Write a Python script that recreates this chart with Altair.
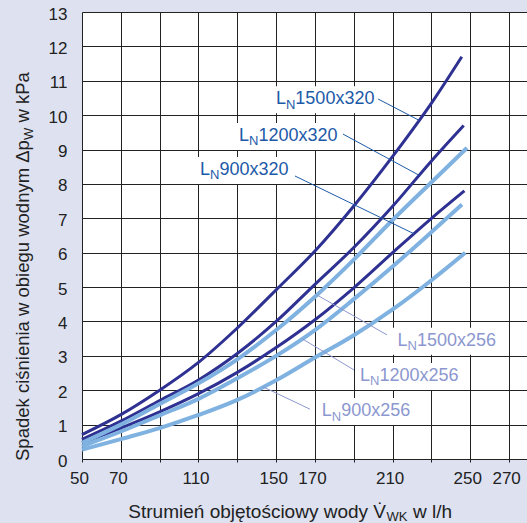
import altair as alt
import pandas as pd

# ---------------- data ----------------
X_STEPS = [50, 70, 90, 110, 130, 150, 170, 190, 210, 230]

SERIES = ["1500x320", "1200x320", "1500x256", "900x320", "1200x256", "900x256"]
KINDS = ["320", "320", "256", "320", "256", "256"]
END_X = [245.6, 246.6, 248.3, 247.0, 245.7, 247.4]

Y_1500_320 = [0.71, 1.29, 2.0, 2.81, 3.81, 4.92, 6.05, 7.36, 8.8, 10.35, 11.7]
Y_1200_320 = [0.57, 1.1, 1.7, 2.3, 3.07, 4.0, 5.08, 6.15, 7.35, 8.67, 9.7]
Y_1500_256 = [0.47, 1.0, 1.6, 2.2, 2.9, 3.75, 4.72, 5.8, 6.95, 8.05, 9.05]
Y_900_320 = [0.47, 0.9, 1.37, 1.9, 2.52, 3.24, 4.05, 4.98, 6.0, 7.0, 7.8]
Y_1200_256 = [0.37, 0.8, 1.27, 1.75, 2.35, 3.0, 3.75, 4.65, 5.6, 6.6, 7.4]
Y_900_256 = [0.27, 0.58, 0.9, 1.28, 1.72, 2.29, 2.95, 3.6, 4.35, 5.2, 6.0]
Y_VALUES = [Y_1500_320, Y_1200_320, Y_1500_256, Y_900_320, Y_1200_256, Y_900_256]

# annotation labels (L_N + name) and leader lines
LABEL_NAMES = ["1500x320", "1200x320", "900x320", "1500x256", "1200x256", "900x256"]
LABEL_KIND = ["320", "320", "320", "256", "256", "256"]
LABEL_X = [149.9, 130.9, 110.8, 212.5, 193.2, 173.5]
LABEL_Y = [10.32, 9.25, 8.26, 3.29, 2.27, 1.25]
LEADER_X1 = [202.5, 184.4, 159.7, 207.1, 190.1, 167.4]
LEADER_Y1 = [10.47, 9.45, 8.23, 3.61, 2.59, 1.45]
LEADER_X2 = [223.6, 223.7, 221.0, 171.0, 163.3, 143.2]
LEADER_Y2 = [9.85, 8.25, 6.55, 4.77, 3.5, 2.1]

GRID_X = [50, 70, 90, 110, 130, 150, 170, 190, 210, 230, 250, 270]
SHOWN_X = [50, 70, 110, 150, 170, 210, 250, 270]
GRID_Y = list(range(0, 14))

X_TITLE_MAIN = "Strumień objętościowy wody V\u0307"
X_TITLE_SUB = "WK"
X_TITLE_END = "w l/h"
Y_TITLE_MAIN = "Spadek ciśnienia w obiegu wodnym Δp"
Y_TITLE_SUB = "W"
Y_TITLE_END = "w kPa"

# ---------------- style ----------------
FONT = "Liberation Sans"
BG = "#dde1f0"
DARK = "#2e3192"
LIGHT = "#7fb2e0"
LABEL_COLORS = {"320": "#1c5aa8", "256": "#8c97d0"}
GRID = "#222222"
TXT = "#222222"

W, H = 445, 447
X_DOMAIN = [50, 279.2]
Y_DOMAIN = [0, 13]
PX_X = (X_DOMAIN[1] - X_DOMAIN[0]) / W
PX_Y = (Y_DOMAIN[1] - Y_DOMAIN[0]) / H

LAB_FS, SUB_FS = 18, 13
L_ADV = 0.556 * LAB_FS
N_ADV = 0.722 * SUB_FS

# ---------------- tables ----------------
rows = []
for name, kind, ex, ys in zip(SERIES, KINDS, END_X, Y_VALUES):
    for xv, yv in zip(X_STEPS + [ex], ys):
        rows.append({"series": name, "kind": kind, "x": xv, "y": yv})
curves = pd.DataFrame(rows)


def text_width(name):
    # approximate advance width (px) of "L" + subscript "N" + name (Arial metrics)
    w = L_ADV + N_ADV
    for ch in name:
        w += (0.5 if ch == "x" else 0.556) * LAB_FS
    return w


labels = pd.DataFrame({
    "name": LABEL_NAMES,
    "kind": LABEL_KIND,
    "lx": LABEL_X,
    "ly": LABEL_Y,
    "x1": LEADER_X1,
    "y1": LEADER_Y1,
    "x2": LEADER_X2,
    "y2": LEADER_Y2,
})
labels["col"] = labels["kind"].map(LABEL_COLORS)
labels["bx1"] = labels["lx"] - 5 * PX_X
labels["bx2"] = labels["lx"] + (labels["name"].map(text_width) + 5) * PX_X
labels["by1"] = labels["ly"] - 9 * PX_Y
labels["by2"] = labels["ly"] + 18 * PX_Y

label_expr = "indexof([" + ",".join(str(v) for v in SHOWN_X) + "], datum.value) >= 0 ? datum.label : ''"

x_scale = alt.Scale(domain=X_DOMAIN, nice=False, zero=False)
y_scale = alt.Scale(domain=Y_DOMAIN, nice=False, zero=False)

x_axis = alt.Axis(values=GRID_X, labelExpr=label_expr, grid=True, gridColor=GRID,
                  gridOpacity=1, gridWidth=1, domain=False, ticks=True, tickSize=3,
                  tickColor=GRID, labelFont=FONT, labelFontSize=17, labelColor=TXT,
                  labelPadding=8, labelOffset=-3, labelFlush=False, labelOverlap=False,
                  title=None)
y_axis = alt.Axis(values=GRID_Y, grid=True, gridColor=GRID, gridOpacity=1, gridWidth=1,
                  domain=False, ticks=False, labelFont=FONT, labelFontSize=17,
                  labelColor=TXT, labelPadding=15, labelOffset=2,
                  labelOverlap=False, title=None)


def X(field):
    return alt.X(field, type="quantitative", scale=x_scale, axis=x_axis)


def Y(field):
    return alt.Y(field, type="quantitative", scale=y_scale, axis=y_axis)


boxes = alt.Chart(labels).mark_rect(color="white").encode(
    x=X("bx1"), x2="bx2", y=Y("by1"), y2="by2")

dark = alt.Chart(curves).transform_filter(alt.datum.kind == "320").mark_line(
    color=DARK, strokeWidth=3, interpolate="monotone").encode(
    x=X("x"), y=Y("y"), detail="series:N")

light = alt.Chart(curves).transform_filter(alt.datum.kind == "256").mark_line(
    color=LIGHT, strokeWidth=4, interpolate="monotone").encode(
    x=X("x"), y=Y("y"), detail="series:N")

leaders = alt.Chart(labels).mark_rule(strokeWidth=1).encode(
    x=X("x1"), y=Y("y1"), x2="x2", y2="y2",
    color=alt.Color("col:N", scale=None))

lab_L = alt.Chart(labels).mark_text(
    text="L", align="left", baseline="alphabetic", font=FONT, fontSize=LAB_FS).encode(
    x=X("lx"), y=Y("ly"), color=alt.Color("col:N", scale=None))
lab_N = alt.Chart(labels).mark_text(
    text="N", align="left", baseline="alphabetic", font=FONT, fontSize=SUB_FS,
    dx=L_ADV, dy=4.5).encode(
    x=X("lx"), y=Y("ly"), color=alt.Color("col:N", scale=None))
lab_rest = alt.Chart(labels).mark_text(
    align="left", baseline="alphabetic", font=FONT, fontSize=LAB_FS,
    dx=L_ADV + N_ADV).encode(
    x=X("lx"), y=Y("ly"), text="name:N", color=alt.Color("col:N", scale=None))

one = pd.DataFrame({"k": [0]})
TITLE_FS = 19
xt1 = alt.Chart(one).mark_text(text=X_TITLE_MAIN, align="right", baseline="alphabetic",
                               font=FONT, fontSize=TITLE_FS, color=TXT).encode(
    x=alt.value(304), y=alt.value(505.5))
xt2 = alt.Chart(one).mark_text(text=X_TITLE_SUB, align="left", baseline="alphabetic",
                               font=FONT, fontSize=SUB_FS, color=TXT).encode(
    x=alt.value(304.5), y=alt.value(508.5))
xt3 = alt.Chart(one).mark_text(text=X_TITLE_END, align="left", baseline="alphabetic",
                               font=FONT, fontSize=TITLE_FS, color=TXT).encode(
    x=alt.value(331), y=alt.value(505.5))

YT_FS = 18.5
yt1 = alt.Chart(one).mark_text(text=Y_TITLE_MAIN, align="left", baseline="alphabetic",
                               angle=270, font=FONT, fontSize=YT_FS, color=TXT).encode(
    x=alt.value(-53.5), y=alt.value(449))
yt2 = alt.Chart(one).mark_text(text=Y_TITLE_SUB, align="left", baseline="alphabetic",
                               angle=270, font=FONT, fontSize=SUB_FS, color=TXT).encode(
    x=alt.value(-49.5), y=alt.value(128))
yt3 = alt.Chart(one).mark_text(text=Y_TITLE_END, align="left", baseline="alphabetic",
                               angle=270, font=FONT, fontSize=YT_FS, color=TXT).encode(
    x=alt.value(-53.5), y=alt.value(110.5))

chart = alt.layer(
    boxes, dark, light, leaders, lab_L, lab_N, lab_rest,
    xt1, xt2, xt3, yt1, yt2, yt3
).properties(
    width=W, height=H,
    autosize=alt.AutoSizeParams(type="none"),
    padding={"left": 82, "top": 12, "right": 0, "bottom": 64},
    background=BG,
).configure_view(fill="white", stroke="transparent")

chart.save("out.html", embed_options={"renderer": "svg", "actions": False})
